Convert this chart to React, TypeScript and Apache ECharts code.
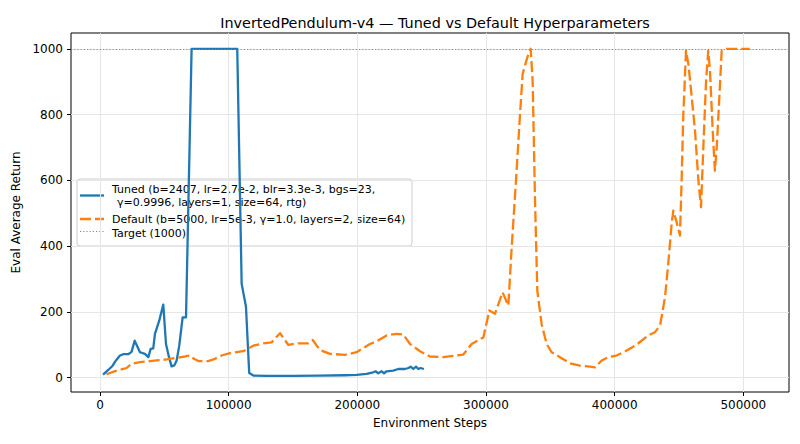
import React, { useEffect, useRef } from 'react';
import * as echarts from 'echarts';

const FONT = '"DejaVu Sans", Verdana, sans-serif';

const chartTitle = 'InvertedPendulum-v4 — Tuned vs Default Hyperparameters';
const xAxisName = 'Environment Steps';
const yAxisName = 'Eval Average Return';

const xTicks = [0, 100000, 200000, 300000, 400000, 500000];
const yTicks = [0, 200, 400, 600, 800, 1000];
const targetValue = 1000;

const tunedLabel1 = 'Tuned (b=2407, lr=2.7e-2, blr=3.3e-3, bgs=23,';
const tunedLabel2 = 'γ=0.9996, layers=1, size=64, rtg)';
const defaultLabel = 'Default (b=5000, lr=5e-3, γ=1.0, layers=2, size=64)';
const targetLabel = 'Target (1000)';

const tunedSteps = [
  2407, 6470, 9850, 12430, 15560, 18090, 22030, 24550, 26980, 31120,
  34960, 37590, 39410, 41430, 42740, 46070, 49210, 51330, 53650, 55670,
  57800, 59610, 61630, 64260, 66890, 71230, 80000, 90000, 100000, 106700,
  110130, 113470, 116000, 119230, 130000, 150000, 170000, 190000, 199450, 207230,
  212390, 214200, 216230, 218950, 220770, 222790, 227950, 231890, 237040, 239670,
  241490, 243510, 245630, 247450, 249160, 251790,
];
const tunedReturn = [
  9, 23, 36, 52, 67, 71, 71, 78, 112, 77,
  72, 62, 87, 89, 133, 173, 222, 102, 62, 34,
  37, 52, 97, 183, 183, 1000, 1000, 1000, 1000, 1000,
  285, 216, 14, 6, 5, 5, 6, 7, 8, 11,
  16, 19, 13, 19, 13, 19, 21, 26, 26, 29,
  33, 26, 33, 26, 29, 26,
];

const defaultSteps = [
  5000, 12930, 20710, 24550, 31120, 38900, 44050, 51830, 59610, 66080,
  69920, 73050, 76390, 84170, 89420, 94570, 101040, 111350, 119230, 126910,
  133370, 139940, 146410, 152870, 161870, 165300, 170960, 178740, 190460, 199450,
  209860, 215010, 222790, 230580, 235730, 240980, 248760, 256440, 266850, 282400,
  288880, 297970, 302620, 306960, 312920, 317370, 319990, 323330, 326460, 328480,
  332120, 334750, 336260, 338070, 339900, 343230, 347170, 351010, 357480, 365260,
  373040, 380820, 384770, 389920, 395070, 401540, 409310, 417090, 426080, 431340,
  435280, 439120, 441650, 444270, 445590, 448210, 450740, 452050, 453370, 455490,
  457310, 459940, 462460, 465090, 467110, 468930, 471050, 472770, 474080, 476200,
  477920, 479340, 481360, 483180, 487010, 505000,
];
const defaultReturn = [
  10, 21, 29, 42, 47, 50, 52, 55, 60, 64,
  67, 57, 50, 50, 57, 67, 74, 80, 97, 104,
  107, 135, 99, 104, 104, 114, 84, 72, 69, 77,
  102, 110, 128, 133, 131, 102, 80, 64, 62, 70,
  102, 122, 204, 194, 259, 219, 396, 599, 801, 923,
  974, 1000, 903, 548, 264, 163, 102, 77, 62, 43,
  36, 33, 31, 52, 62, 67, 82, 100, 128, 138,
  158, 244, 346, 467, 508, 472, 432, 599, 801, 994,
  953, 852, 751, 599, 518, 700, 903, 994, 933, 751,
  629, 700, 852, 994, 1000, 1000,
];

const BLUE = '#1f77b4';
const ORANGE = '#ff7f0e';
const GRAY = '#8a8a8a';

export default function App() {
  const ref = useRef<HTMLDivElement>(null);

  useEffect(() => {
    if (!ref.current) return;
    const chart = echarts.init(ref.current, null, { renderer: 'svg' });
    const tunedData = tunedSteps.map((s, i) => [s, tunedReturn[i]]);
    const defaultData = defaultSteps.map((s, i) => [s, defaultReturn[i]]);
    const textBase = { fontFamily: FONT, fontSize: 11, fill: '#000', verticalAlign: 'middle', align: 'left' };

    chart.setOption({
      animation: false,
      backgroundColor: '#ffffff',
      title: {
        text: chartTitle,
        left: 430,
        top: 11,
        textAlign: 'center',
        textStyle: { fontFamily: FONT, fontSize: 14.4, fontWeight: 'normal', color: '#000' },
      },
      grid: {
        left: 71, right: 11, top: 33, bottom: 52,
        show: true, borderColor: '#000', borderWidth: 1, backgroundColor: 'transparent',
      },
      xAxis: {
        type: 'value',
        min: -22500,
        max: 535500,
        name: xAxisName,
        nameLocation: 'middle',
        nameGap: 25,
        nameTextStyle: { fontFamily: FONT, fontSize: 12, color: '#000' },
        axisLine: { show: false, onZero: false },
        axisTick: { show: true, inside: false, length: 4, customValues: xTicks, lineStyle: { color: '#000', width: 1 } },
        axisLabel: { customValues: xTicks, margin: 7, fontFamily: FONT, fontSize: 12, color: '#000', formatter: (v: number) => String(v) },
        splitLine: { show: false },
      },
      yAxis: {
        type: 'value',
        min: -44,
        max: 1048,
        name: yAxisName,
        nameLocation: 'middle',
        nameGap: 46,
        nameTextStyle: { fontFamily: FONT, fontSize: 12, color: '#000' },
        axisLine: { show: false, onZero: false },
        axisTick: { show: true, inside: false, length: 4, customValues: yTicks, lineStyle: { color: '#000', width: 1 } },
        axisLabel: { customValues: yTicks, margin: 8, fontFamily: FONT, fontSize: 12, color: '#000', formatter: (v: number) => String(v) },
        splitLine: { show: false },
      },
      series: [
        {
          type: 'line',
          name: 'grid',
          data: [],
          silent: true,
          z: 1,
          markLine: {
            silent: true,
            z: 1,
            symbol: ['none', 'none'],
            label: { show: false },
            emphasis: { disabled: true },
            lineStyle: { color: '#e6e6e6', width: 1, type: 'solid' },
            data: [...xTicks.map((v) => ({ xAxis: v })), ...yTicks.map((v) => ({ yAxis: v }))],
          },
        },
        {
          type: 'line',
          name: tunedLabel1,
          data: tunedData,
          showSymbol: false,
          symbol: 'none',
          z: 3,
          lineStyle: { color: BLUE, width: 2.3, join: 'round' },
          itemStyle: { color: BLUE },
        },
        {
          type: 'line',
          name: defaultLabel,
          data: defaultData,
          showSymbol: false,
          symbol: 'none',
          z: 4,
          lineStyle: { color: ORANGE, width: 2.3, type: [11, 4], cap: 'butt', join: 'round' },
          itemStyle: { color: ORANGE },
        },
        {
          type: 'line',
          name: targetLabel,
          data: [],
          silent: true,
          z: 5,
          markLine: {
            silent: true,
            z: 5,
            symbol: ['none', 'none'],
            label: { show: false },
            emphasis: { disabled: true },
            lineStyle: { color: GRAY, width: 1, type: [1.2, 2] },
            data: [{ yAxis: targetValue }],
          },
        },
      ],
      graphic: [
        {
          type: 'group',
          z: 100,
          children: [
            {
              type: 'rect',
              shape: { x: 77, y: 179, width: 335, height: 67, r: 3 },
              style: { fill: 'rgba(255,255,255,0.8)', stroke: '#cccccc', lineWidth: 1 },
            },
            { type: 'line', shape: { x1: 80, y1: 195.5, x2: 104, y2: 195.5 }, style: { stroke: BLUE, lineWidth: 2.3 } },
            { type: 'text', x: 112, y: 189.5, style: { ...textBase, text: tunedLabel1 } },
            { type: 'text', x: 117, y: 202, style: { ...textBase, text: tunedLabel2 } },
            { type: 'line', shape: { x1: 80, y1: 219, x2: 104, y2: 219 }, style: { stroke: ORANGE, lineWidth: 2.3, lineDash: [11, 4] } },
            { type: 'text', x: 112, y: 219, style: { ...textBase, text: defaultLabel } },
            { type: 'line', shape: { x1: 80, y1: 231.5, x2: 104, y2: 231.5 }, style: { stroke: GRAY, lineWidth: 1, lineDash: [1.2, 2] } },
            { type: 'text', x: 112, y: 233, style: { ...textBase, text: targetLabel } },
          ],
        },
      ],
    });

    return () => chart.dispose();
  }, []);

  return (
    <div
      ref={ref}
      style={{ position: 'fixed', left: 0, top: 0, width: 800, height: 444, background: '#fff' }}
    />
  );
}
